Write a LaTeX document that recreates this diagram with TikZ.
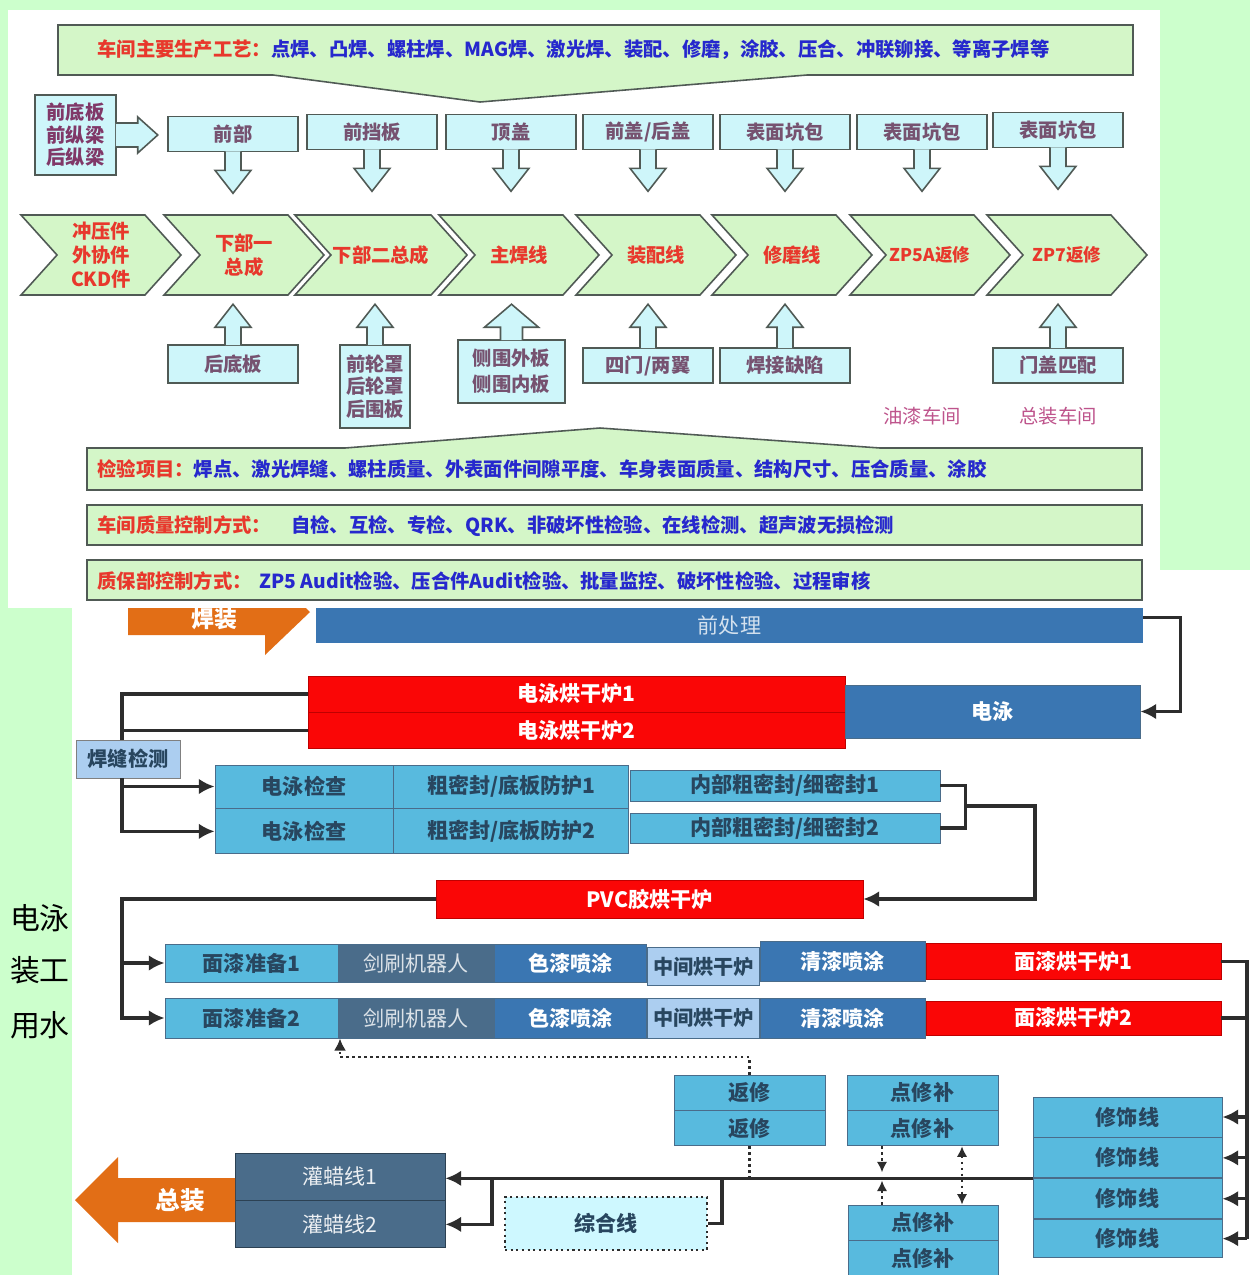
\documentclass[tikz,border=0pt]{standalone}
\usepackage{fontspec}
\setmainfont{Noto Sans CJK SC}
\usepackage{xcolor}
\usepackage{tikz}
\usetikzlibrary{shapes,arrows,arrows.meta,positioning}

\definecolor{bggreen}{RGB}{204,255,204}
\definecolor{chevfill}{RGB}{212,246,200}
\definecolor{boxcyan}{RGB}{206,246,250}
\definecolor{edgegray}{RGB}{80,90,85}
\definecolor{txtred}{RGB}{232,56,44}
\definecolor{txtblue}{RGB}{38,40,205}
\definecolor{txtmauve}{RGB}{118,82,112}
\definecolor{txtplum}{RGB}{128,56,104}
\definecolor{txtpink}{RGB}{190,84,140}
\definecolor{skyblue}{RGB}{88,186,222}
\definecolor{steelblue}{RGB}{58,118,178}
\definecolor{slatecell}{RGB}{74,108,138}
\definecolor{paleblue}{RGB}{172,206,240}
\definecolor{ovenred}{RGB}{250,6,6}
\definecolor{flaggold}{RGB}{226,110,22}
\definecolor{wiredark}{RGB}{45,45,45}
\definecolor{inkdark}{RGB}{40,70,95}
\definecolor{mixcyan}{RGB}{206,248,255}

\begin{document}
\begin{tikzpicture}[x=0.02cm, y=-0.02cm, font=\fontsize{11}{13}\selectfont]
    \tikzstyle{chev} = [signal, signal from=west, signal to=east, signal pointer angle=96, draw=edgegray, line width=0.9pt, fill=chevfill, text=txtred, font=\fontsize{11}{13.6}\selectfont\bfseries, align=center, minimum width=3.2cm, minimum height=1.6cm, inner sep=1pt]
    \tikzstyle{part} = [rectangle, draw=edgegray, line width=0.9pt, fill=boxcyan, text=txtmauve, font=\fontsize{11}{12.8}\selectfont\bfseries, align=center, inner sep=1pt]
    \tikzstyle{fat} = [draw=edgegray, line width=0.9pt, fill=boxcyan]
    \tikzstyle{banner} = [draw=edgegray, line width=0.9pt, fill=chevfill]
    \tikzstyle{bantext} = [anchor=west, inner sep=0pt, font=\fontsize{11}{13}\selectfont\bfseries]
    \tikzstyle{cell} = [rectangle, draw=slatecell, line width=0.5pt, fill=skyblue, text=inkdark, font=\fontsize{12}{14}\selectfont\bfseries, inner sep=1pt]
    \tikzstyle{robot} = [cell, fill=slatecell, text=white!80!slatecell, font=\fontsize{12}{14}\selectfont]
    \tikzstyle{paint} = [cell, fill=steelblue, text=white]
    \tikzstyle{midoven} = [cell, fill=paleblue, font=\fontsize{11.5}{14}\selectfont\bfseries]
    \tikzstyle{oven} = [rectangle, fill=ovenred, draw=red!75!black, line width=0.4pt, text=white, font=\fontsize{12}{14}\selectfont\bfseries, inner sep=1pt]
    \tikzstyle{wire} = [draw=wiredark, line width=1.8pt]
    \tikzstyle{flow} = [wire, -{Latex[length=9pt,width=9pt]}]
    \tikzstyle{dotline} = [draw=wiredark, line width=1.4pt, dotted]

    % backgrounds
    \useasboundingbox (0,0) rectangle (1250,1275);
    \fill[bggreen] (0,0) rectangle (1250,1275);
    \fill[white] (72,570) rectangle (1250,1275);
    \fill[white] (8,10) rectangle (1160,608);

    % ---------------- welding shop ----------------
    \draw[banner] (58,25) -- (1133,25) -- (1133,75) -- (807,75) -- (480,102) -- (273,75) -- (58,75) -- cycle;
    \node[bantext] (craft) at (97,50) {\textcolor{txtred}{车间主要生产工艺：}\textcolor{txtblue}{点焊、凸焊、螺柱焊、MAG焊、激光焊、装配、修磨，涂胶、压合、冲联铆接、等离子焊等}};

    \node[part, text=txtplum, minimum width=1.62cm, minimum height=1.6cm] (lb) at (75.5,135) {前底板\\前纵梁\\后纵梁};
    \draw[fat] (lb.east) ++(-1,-12) -- ++(22,0) -- ++(0,-6) -- ++(20,18) -- ++(-20,18) -- ++(0,-6) -- ++(-22,0);

    \node[part, minimum width=2.6cm, minimum height=0.7cm] (t1) at (233,134) {前部};
    \node[part, minimum width=2.6cm, minimum height=0.7cm] (t2) at (372,132) {前挡板};
    \node[part, minimum width=2.6cm, minimum height=0.7cm] (t3) at (511,132) {顶盖};
    \node[part, minimum width=2.6cm, minimum height=0.7cm] (t4) at (648,132) {前盖/后盖};
    \node[part, minimum width=2.6cm, minimum height=0.7cm] (t5) at (785,132) {表面坑包};
    \node[part, minimum width=2.6cm, minimum height=0.7cm] (t6) at (922,132) {表面坑包};
    \node[part, minimum width=2.6cm, minimum height=0.7cm] (t7) at (1058,130) {表面坑包};
    \draw[fat] (t1.south) ++(-8,-1) -- ++(0,19) -- ++(-10,0) -- ++(18,23) -- ++(18,-23) -- ++(-10,0) -- ++(0,-19);
    \draw[fat] (t2.south) ++(-8,-1) -- ++(0,19) -- ++(-10,0) -- ++(18,23) -- ++(18,-23) -- ++(-10,0) -- ++(0,-19);
    \draw[fat] (t3.south) ++(-8,-1) -- ++(0,19) -- ++(-10,0) -- ++(18,23) -- ++(18,-23) -- ++(-10,0) -- ++(0,-19);
    \draw[fat] (t4.south) ++(-8,-1) -- ++(0,19) -- ++(-10,0) -- ++(18,23) -- ++(18,-23) -- ++(-10,0) -- ++(0,-19);
    \draw[fat] (t5.south) ++(-8,-1) -- ++(0,19) -- ++(-10,0) -- ++(18,23) -- ++(18,-23) -- ++(-10,0) -- ++(0,-19);
    \draw[fat] (t6.south) ++(-8,-1) -- ++(0,19) -- ++(-10,0) -- ++(18,23) -- ++(18,-23) -- ++(-10,0) -- ++(0,-19);
    \draw[fat] (t7.south) ++(-8,-1) -- ++(0,19) -- ++(-10,0) -- ++(18,23) -- ++(18,-23) -- ++(-10,0) -- ++(0,-19);

    \node[chev] (c1) at (101,255) {冲压件\\外协件\\CKD件};
    \node[chev] (c2) at (244,255) {下部一\\总成};
    \node[chev] (c3) at (381,255) {下部二总成};
    \node[chev] (c4) at (519,255) {主焊线};
    \node[chev] (c5) at (656,255) {装配线};
    \node[chev] (c6) at (792,255) {修磨线};
    \node[chev, font=\fontsize{10}{12}\selectfont\bfseries] (c7) at (930,255) {ZP5A返修};
    \node[chev, font=\fontsize{10}{12}\selectfont\bfseries] (c8) at (1067,255) {ZP7返修};

    \node[part, minimum width=2.6cm, minimum height=0.76cm] (b1) at (233,364) {后底板};
    \node[part, minimum width=1.4cm, minimum height=1.66cm] (b2) at (375,386.5) {前轮罩\\后轮罩\\后围板};
    \node[part, font=\fontsize{11}{14.7}\selectfont\bfseries, minimum width=2.14cm, minimum height=1.26cm] (b3) at (511.5,371.5) {侧围外板\\侧围内板};
    \node[part, minimum width=2.6cm, minimum height=0.7cm] (b4) at (648,365.5) {四门/两翼};
    \node[part, minimum width=2.6cm, minimum height=0.7cm] (b5) at (785,365.5) {焊接缺陷};
    \node[part, minimum width=2.6cm, minimum height=0.7cm] (b6) at (1058,365.5) {门盖匹配};
    \draw[fat] (b1.north) ++(-8,1) -- ++(0,-18) -- ++(-10,0) -- ++(18,-23) -- ++(18,23) -- ++(-10,0) -- ++(0,18);
    \draw[fat] (b2.north) ++(-8,1) -- ++(0,-18) -- ++(-10,0) -- ++(18,-23) -- ++(18,23) -- ++(-10,0) -- ++(0,18);
    \draw[fat] (b3.north) ++(-11,1) -- ++(0,-13) -- ++(-16,0) -- ++(27,-23) -- ++(27,23) -- ++(-16,0) -- ++(0,13);
    \draw[fat] (b4.north) ++(-8,1) -- ++(0,-21) -- ++(-10,0) -- ++(18,-23) -- ++(18,23) -- ++(-10,0) -- ++(0,21);
    \draw[fat] (b5.north) ++(-8,1) -- ++(0,-21) -- ++(-10,0) -- ++(18,-23) -- ++(18,23) -- ++(-10,0) -- ++(0,21);
    \draw[fat] (b6.north) ++(-8,1) -- ++(0,-21) -- ++(-10,0) -- ++(18,-23) -- ++(18,23) -- ++(-10,0) -- ++(0,21);

    \node[text=txtpink, inner sep=0pt] (paintshop) at (922,416) {油漆车间};
    \node[text=txtpink, inner sep=0pt] (asmshop) at (1058,416) {总装车间};

    \draw[banner] (87,448) -- (345,448) -- (600,428) -- (880,448) -- (1142,448) -- (1142,490) -- (87,490) -- cycle;
    \node[bantext] (q1) at (97,469) {\textcolor{txtred}{检验项目：}\textcolor{txtblue}{焊点、激光焊缝、螺柱质量、外表面件间隙平度、车身表面质量、结构尺寸、压合质量、涂胶}};
    \draw[banner] (87,505) rectangle (1142,545);
    \node[bantext] (q2) at (97,526) {\textcolor{txtred}{车间质量控制方式：}\hspace{0.4cm}\textcolor{txtblue}{自检、互检、专检、QRK、非破坏性检验、在线检测、超声波无损检测}};
    \draw[banner] (87,560) rectangle (1142,600);
    \node[bantext] (q3) at (97,581) {\textcolor{txtred}{质保部控制方式：}\hspace{0.15cm}\textcolor{txtblue}{ZP5 Audit检验、压合件Audit检验、批量监控、破坏性检验、过程审核}};

    % ---------------- paint shop ----------------
    \fill[flaggold] (128,608) -- (128,635) -- (265,635) -- (265,655) -- (310,612) -- (306,608) -- cycle;
    \node[text=white, font=\fontsize{13}{15}\selectfont\bfseries, inner sep=0pt] (weldflag) at (214,619) {焊装};
    \node[rectangle, fill=steelblue, minimum width=16.54cm, minimum height=0.7cm, text=white!78!steelblue, font=\fontsize{12}{14}\selectfont] (pre) at (729.5,625.5) {前处理};

    \node[oven, minimum width=10.74cm, minimum height=0.72cm] (ep1) at (576.5,694) {电泳烘干炉1};
    \node[oven, minimum width=10.74cm, minimum height=0.72cm, below=0pt of ep1] (ep2) {电泳烘干炉2};
    \node[paint, minimum width=5.9cm, minimum height=1.06cm] (ep) at (992.5,711.5) {电泳};
    \draw[flow] ([yshift=4.5pt]pre.east) -- ++(37,0) |- (ep.east);

    \node[rectangle, draw=gray, fill=paleblue, text=inkdark, font=\fontsize{11.5}{13}\selectfont\bfseries, minimum width=2.08cm, minimum height=0.76cm, inner sep=1pt] (hfj) at (128,759) {焊缝检测};
    \coordinate (lbus) at (122,0);
    \draw[wire] (ep1.west) -| (hfj.north -| lbus);
    \draw[wire] (ep2.west) -- (ep2.west -| lbus);

    \node[cell, minimum width=3.56cm, minimum height=0.86cm] (ec1) at (304,786.5) {电泳检查};
    \node[cell, minimum width=4.7cm, minimum height=0.86cm, right=0pt of ec1] (cs1) {粗密封/底板防护1};
    \node[cell, minimum width=3.56cm, minimum height=0.9cm, below=0pt of ec1] (ec2) {电泳检查};
    \node[cell, minimum width=4.7cm, minimum height=0.9cm, right=0pt of ec2] (cs2) {粗密封/底板防护2};
    \draw[flow] (ec1.west -| lbus) -- (ec1.west);
    \draw[flow] (hfj.south -| lbus) |- (ec2.west);

    \node[cell, minimum width=6.2cm, minimum height=0.62cm] (is1) at (785,785.5) {内部粗密封/细密封1};
    \node[cell, minimum width=6.2cm, minimum height=0.6cm] (is2) at (785,828) {内部粗密封/细密封2};
    \draw[wire] (is1.east) -- ++(25,0) |- (is2.east);
    \coordinate (sealjoin) at (965,806);

    \node[oven, minimum width=8.54cm, minimum height=0.76cm] (pvc) at (649.5,899) {PVC胶烘干炉};
    \draw[flow] (sealjoin) -- ++(70,0) |- (pvc.east);

    \node[cell, minimum width=3.46cm, minimum height=0.76cm] (tp1) at (251.5,963) {面漆准备1};
    \node[robot, minimum width=3.1cm, minimum height=0.76cm, right=0pt of tp1] (rb1) {剑刷机器人};
    \node[paint, minimum width=3.04cm, minimum height=0.76cm, right=0pt of rb1] (cp1) {色漆喷涂};
    \node[midoven, minimum width=2.24cm, minimum height=0.76cm, right=0pt of cp1, yshift=-2pt] (md1) {中间烘干炉};
    \node[paint, minimum width=3.3cm, minimum height=0.8cm, right=0pt of md1, yshift=3pt] (cl1) {清漆喷涂};
    \node[oven, minimum width=5.9cm, minimum height=0.72cm, right=0pt of cl1] (fo1) {面漆烘干炉1};

    \node[cell, minimum width=3.46cm, minimum height=0.8cm] (tp2) at (251.5,1018) {面漆准备2};
    \node[robot, minimum width=3.1cm, minimum height=0.8cm, right=0pt of tp2] (rb2) {剑刷机器人};
    \node[paint, minimum width=3.04cm, minimum height=0.8cm, right=0pt of rb2] (cp2) {色漆喷涂};
    \node[midoven, minimum width=2.24cm, minimum height=0.8cm, right=0pt of cp2] (md2) {中间烘干炉};
    \node[paint, minimum width=3.3cm, minimum height=0.8cm, right=0pt of md2] (cl2) {清漆喷涂};
    \node[oven, minimum width=5.9cm, minimum height=0.68cm, right=0pt of cl2] (fo2) {面漆烘干炉2};

    \draw[flow] (pvc.west) -| (tp1.west -| lbus) -- (tp1.west);
    \draw[flow] (tp1.west -| lbus) |- (tp2.west);

    % ---------------- repair / finish ----------------
    \node[cell, minimum width=3.02cm, minimum height=0.7cm] (rp1) at (749.5,1092.5) {返修};
    \node[cell, minimum width=3.02cm, minimum height=0.7cm, below=0pt of rp1] (rp2) {返修};
    \node[cell, minimum width=3.02cm, minimum height=0.7cm] (sp1) at (922.5,1092.5) {点修补};
    \node[cell, minimum width=3.02cm, minimum height=0.7cm, below=0pt of sp1] (sp2) {点修补};
    \node[cell, minimum width=3.0cm, minimum height=0.7cm] (sp3) at (923,1222.5) {点修补};
    \node[cell, minimum width=3.0cm, minimum height=0.7cm, below=0pt of sp3] (sp4) {点修补};

    \node[cell, minimum width=3.78cm, minimum height=0.8cm] (tr1) at (1127.5,1117) {修饰线};
    \node[cell, minimum width=3.78cm, minimum height=0.8cm, below=0pt of tr1] (tr2) {修饰线};
    \node[cell, minimum width=3.78cm, minimum height=0.8cm, below=0pt of tr2] (tr3) {修饰线};
    \node[cell, minimum width=3.78cm, minimum height=0.76cm, below=0pt of tr3] (tr4) {修饰线};

    \coordinate (rbus) at (1247,0);
    \draw[wire] (fo1.east) -- (fo1.east -| rbus) -- (tr4.east -| rbus);
    \draw[wire] (fo2.east) -- (fo2.east -| rbus);
    \draw[flow] (tr1.east -| rbus) -- (tr1.east);
    \draw[flow] (tr2.east -| rbus) -- (tr2.east);
    \draw[flow] (tr3.east -| rbus) -- (tr3.east);
    \draw[flow] (tr4.east -| rbus) -- (tr4.east);

    \node[robot, draw=slatecell!60!black, text=white!90!slatecell, minimum width=4.2cm, minimum height=0.94cm] (wx1) at (340,1176.5) {灌蜡线1};
    \node[robot, draw=slatecell!60!black, text=white!90!slatecell, minimum width=4.2cm, minimum height=0.94cm, below=0pt of wx1] (wx2) {灌蜡线2};
    \node[rectangle, draw=wiredark, dotted, line width=1.2pt, fill=mixcyan, text=inkdark, font=\fontsize{12}{14}\selectfont\bfseries, minimum width=4.04cm, minimum height=1.06cm] (zh) at (606,1223.5) {综合线};

    \draw[flow] (tr3.north west) -- (tr3.north west -| wx1.east);
    \coordinate (waxsplit) at (492,1177);
    \draw[flow] (waxsplit) |- (wx2.east);
    \coordinate (mixjoin) at (722,1177);
    \draw[wire] (zh.east) -| (mixjoin);

    \coordinate (retturn) at (340,1057);
    \draw[dotline, -{Latex[length=7pt,width=7pt]}] (rp1.north) |- (retturn) -- (retturn |- rb2.south);
    \draw[dotline] (rp2.south) -- (rp2.south |- mixjoin);
    \coordinate (spleft) at (882,1177);
    \coordinate (spright) at (962,1177);
    \draw[dotline, -{Latex[length=6pt,width=6pt]}] (sp2.south -| spleft) -- ++(0,26);
    \draw[dotline, -{Latex[length=6pt,width=6pt]}] (sp3.north -| spleft) -- ++(0,-24);
    \draw[dotline, {Latex[length=6pt,width=6pt]}-{Latex[length=6pt,width=6pt]}] (sp2.south -| spright) -- (sp3.north -| spright);

    \fill[flaggold] (235,1178) -- (118,1178) -- (118,1157) -- (75,1200) -- (118,1243) -- (118,1222) -- (235,1222) -- cycle;
    \node[text=white, font=\fontsize{14}{16}\selectfont\bfseries, inner sep=0pt] (final) at (180,1200) {总装};

    % cut-off side text
    \node[font=\fontsize{17}{20}\selectfont, inner sep=0pt] (sideA) at (40,918) {电泳};
    \node[font=\fontsize{17}{20}\selectfont, inner sep=0pt] (sideB) at (40,970) {装工};
    \node[font=\fontsize{17}{20}\selectfont, inner sep=0pt] (sideC) at (40,1025) {用水};
\end{tikzpicture}
\end{document}
